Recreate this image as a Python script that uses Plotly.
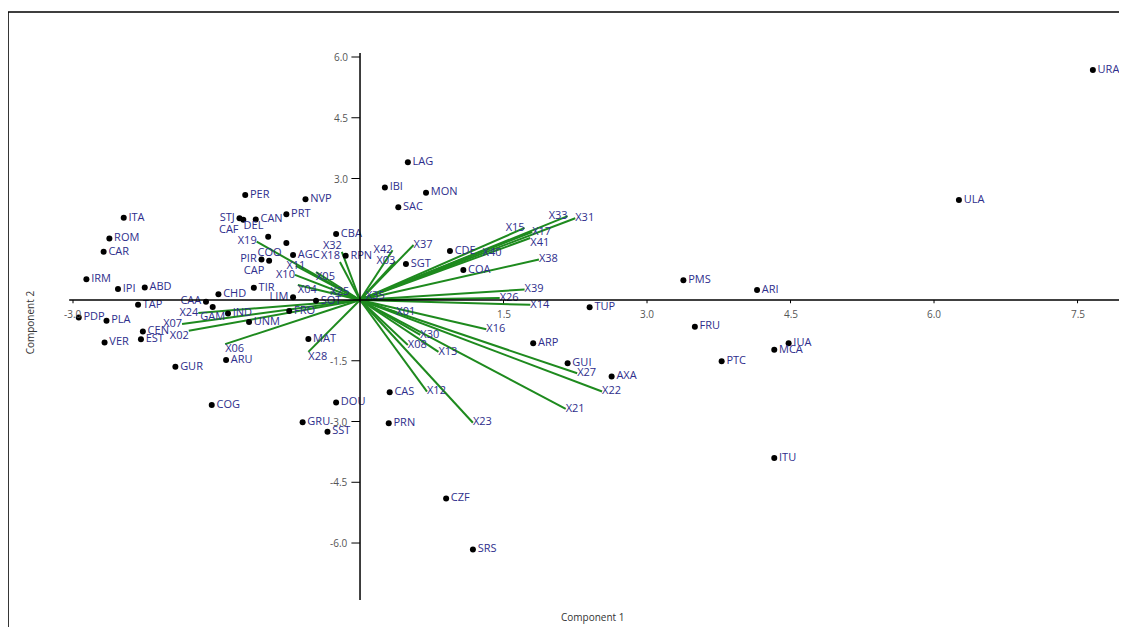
import plotly.graph_objects as go

# ---- data: sample scores ----
point_names = ["ITA","ROM","CAR","IRM","IPI","ABD","CHD","CAA","TAP","PDP","PLA","CEN","EST","VER",
               "GUR","COG","ARU","GAM","IND","PER","NVP","STJ","CAF","CAN","PRT","DEL","COO","CBA",
               "AGC","PIR","CAP","RPN","TIR","LIM","SOT","FRO","UNM","MAT","DOU","GRU","SST","LAG",
               "IBI","MON","SAC","SGT","CDE","COA","TUP","ARP","GUI","AXA","CAS","PRN","PMS","ARI",
               "FRU","IUA","MCA","PTC","ITU","CZF","SRS","URA","ULA"]
point_x = [-2.47,-2.62,-2.68,-2.86,-2.53,-2.25,-1.48,-1.61,-2.32,-2.94,-2.65,-2.27,-2.29,-2.67,
           -1.93,-1.55,-1.40,-1.54,-1.38,-1.20,-0.57,-1.26,-1.22,-1.09,-0.77,-0.96,-0.77,-0.25,
           -0.70,-1.03,-0.95,-0.15,-1.11,-0.70,-0.46,-0.74,-1.16,-0.54,-0.25,-0.60,-0.34,0.50,
           0.26,0.69,0.40,0.48,0.94,1.08,2.40,1.81,2.17,2.63,0.31,0.30,3.38,4.15,
           3.50,4.48,4.33,3.78,4.33,0.90,1.18,7.66,6.26]
point_y = [2.03,1.52,1.19,0.51,0.27,0.31,0.14,-0.04,-0.12,-0.43,-0.51,-0.78,-0.97,-1.05,
           -1.65,-2.59,-1.48,-0.17,-0.33,2.59,2.49,2.02,1.98,1.99,2.12,1.56,1.41,1.63,
           1.11,1.00,0.97,1.09,0.30,0.07,-0.02,-0.27,-0.54,-0.96,-2.53,-3.02,-3.25,3.40,
           2.78,2.65,2.29,0.89,1.21,0.74,-0.18,-1.07,-1.56,-1.89,-2.28,-3.04,0.49,0.25,
           -0.66,-1.07,-1.23,-1.51,-3.90,-4.90,-6.16,5.68,2.47]

# ---- data: variable loadings ----
var_names = ["X31","X33","X15","X17","X41","X40","X38","X39","X26","X14","X37","X42","X03",
             "X16","X27","X22","X21","X23","X12","X13","X08","X30","X01","X35","X19","X32",
             "X18","X05","X11","X10","X04","X25","X24","X07","X02","X06","X28"]
var_x = [2.25,2.17,1.72,1.80,1.78,1.38,1.87,1.72,1.46,1.78,0.56,0.34,0.37,
         1.32,2.27,2.53,2.15,1.18,0.70,0.82,0.50,0.63,0.38,0.06,-1.08,-0.19,
         -0.21,-0.46,-0.67,-0.68,-0.65,-0.31,-1.69,-1.86,-1.79,-1.41,-0.54]
var_y = [2.02,2.07,1.78,1.68,1.53,1.30,1.00,0.26,0.05,-0.12,1.36,1.23,0.95,
         -0.72,-1.81,-2.26,-2.69,-3.03,-2.26,-1.28,-1.11,-0.86,-0.30,0.10,1.44,1.19,
         0.94,0.69,0.84,0.62,0.37,0.20,-0.32,-0.59,-0.76,-1.09,-1.28]

# ---- axis ticks ----
x_ticks = [-3.0, 1.5, 3.0, 4.5, 6.0, 7.5]
x_tick_labels = ["-3.0", "1.5", "3.0", "4.5", "6.0", "7.5"]
y_ticks = [6.0, 4.5, 3.0, -1.5, -3.0, -4.5, -6.0]
y_tick_labels = ["6.0", "4.5", "3.0", "-1.5", "-3.0", "-4.5", "-6.0"]

# ---- label placement style ----
point_pos = {"STJ": "middle left", "CAF": "bottom left", "DEL": "top left", "PIR": "middle left",
             "CAP": "bottom left", "LIM": "middle left", "CAA": "middle left", "COO": "bottom left",
             "GAM": "bottom center"}
var_pos = {"X33": "middle left", "X15": "middle left", "X40": "bottom center", "X41": "bottom right",
           "X42": "middle left", "X03": "middle left", "X32": "top left", "X18": "top left",
           "X10": "middle left", "X19": "middle left", "X24": "middle left", "X07": "middle left",
           "X02": "bottom left", "X06": "bottom right", "X28": "bottom right", "X05": "bottom right",
           "X04": "bottom right", "X11": "middle center", "X25": "middle right"}

LABEL_COLOR = "#2e2e8c"
GREEN = "#1e8a1e"
FONT = "Open Sans"

fig = go.Figure()

# loading vectors from origin
lx, ly = [], []
for vx, vy in zip(var_x, var_y):
    lx += [0, vx, None]
    ly += [0, vy, None]
fig.add_trace(go.Scatter(x=lx, y=ly, mode="lines", line=dict(color=GREEN, width=2),
                         hoverinfo="skip", showlegend=False))

vpos = [var_pos.get(n, "middle right" if vx >= 0 else "middle left") for n, vx in zip(var_names, var_x)]
fig.add_trace(go.Scatter(x=var_x, y=var_y, mode="text", text=var_names, textposition=vpos,
                         textfont=dict(color=LABEL_COLOR, size=11, family=FONT),
                         showlegend=False))

ppos = [point_pos.get(n, "middle right") for n in point_names]
fig.add_trace(go.Scatter(x=point_x, y=point_y, mode="markers+text", text=point_names,
                         textposition=ppos,
                         marker=dict(color="black", size=6),
                         textfont=dict(color=LABEL_COLOR, size=11, family=FONT),
                         showlegend=False))

shapes = []
# axes through origin
shapes.append(dict(type="line", xref="x", yref="y", x0=-3.04, x1=8.1, y0=0, y1=0,
                   line=dict(color="black", width=1.5)))
shapes.append(dict(type="line", xref="x", yref="y", x0=0, x1=0, y0=-7.6, y1=6.1,
                   line=dict(color="black", width=1.5)))
# frame
shapes.append(dict(type="rect", xref="paper", yref="paper", x0=-0.0487, x1=1.02, y0=-0.08, y1=1.05,
                   line=dict(color="black", width=1.5), fillcolor="rgba(0,0,0,0)", layer="below"))

annotations = []
for t, lab in zip(x_ticks, x_tick_labels):
    shapes.append(dict(type="line", xref="x", yref="y", x0=t, x1=t, y0=0, y1=-0.08,
                       line=dict(color="black", width=1)))
    annotations.append(dict(x=t, y=0, xref="x", yref="y", text=lab, showarrow=False,
                            xanchor="center", yshift=-14, font=dict(size=10, color="#555", family=FONT)))
for t, lab in zip(y_ticks, y_tick_labels):
    shapes.append(dict(type="line", xref="x", yref="y", x0=-0.09, x1=0, y0=t, y1=t,
                       line=dict(color="black", width=1)))
    annotations.append(dict(x=0, y=t, xref="x", yref="y", text=lab, showarrow=False,
                            xanchor="right", xshift=-10, font=dict(size=10, color="#555", family=FONT)))

annotations.append(dict(x=0.4995, y=-0.03, xref="paper", yref="paper", text="Component 1",
                        xanchor="center", yanchor="middle",
                        showarrow=False, font=dict(size=10, color="#333", family=FONT)))
annotations.append(dict(x=-0.028, y=0.496, xref="paper", yref="paper", text="Component 2",
                        xanchor="center", yanchor="middle",
                        textangle=-90, showarrow=False, font=dict(size=10, color="#333", family=FONT)))

# page body has an 8px margin, so the figure is 8px smaller with 8px less left/top margin
fig.update_layout(
    width=1119, height=619,
    margin=dict(l=52, r=0, t=32, b=27),
    plot_bgcolor="white", paper_bgcolor="white",
    xaxis=dict(range=[-3.136, 8.017], visible=False, fixedrange=True),
    yaxis=dict(range=[-7.407, 6.42], visible=False, fixedrange=True),
    shapes=shapes, annotations=annotations,
    showlegend=False,
)

fig.write_html("out.html")
